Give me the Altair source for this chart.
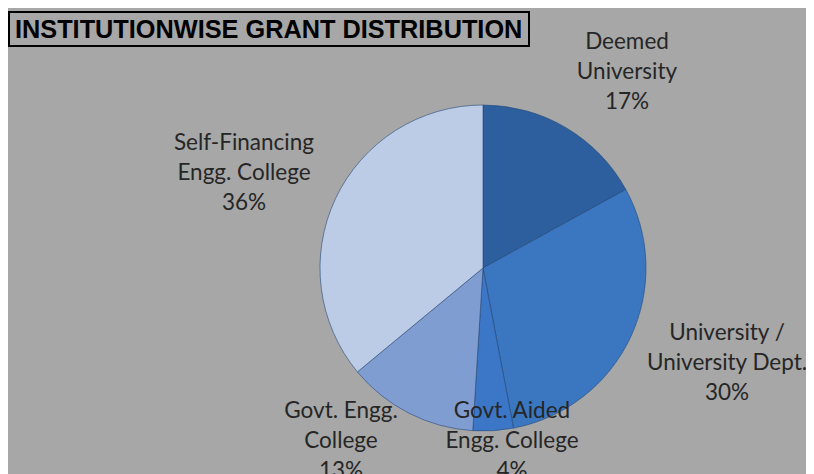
import altair as alt
import pandas as pd

categories = ["Deemed University", "University / University Dept.", "Govt. Aided Engg. College",
              "Govt. Engg. College", "Self-Financing Engg. College"]
label_lines = [["Deemed", "University"], ["University /", "University Dept."],
               ["Govt. Aided", "Engg. College"], ["Govt. Engg.", "College"],
               ["Self-Financing", "Engg. College"]]
shares = [17, 30, 4, 13, 36]
colors = ["#2d5f9e", "#3a77c0", "#3c76c6", "#809dd2", "#bccbe6"]
title_text = "INSTITUTIONWISE GRANT DISTRIBUTION"

df = pd.DataFrame({
    "category": categories,
    "share": shares,
    "idx": list(range(len(categories))),
})
df["label"] = [lines + [f"{s}%"] for lines, s in zip(label_lines, shares)]

CX, CY, R = 475, 260, 163

base = alt.Chart(df).encode(
    theta=alt.Theta("share:Q", stack=True),
    order=alt.Order("idx:O"),
)

pie = base.mark_arc(radius=R, stroke="#24497a", strokeWidth=1, strokeOpacity=0.6).encode(
    x=alt.value(CX), y=alt.value(CY),
    color=alt.Color("category:N", scale=alt.Scale(domain=categories, range=colors), legend=None),
)

# label offsets (layout) of the first line relative to the pie centre
offsets = {
    "Deemed University": (144, -226),
    "University / University Dept.": (244, 65),
    "Govt. Aided Engg. College": (29, 143),
    "Govt. Engg. College": (-142, 143),
    "Self-Financing Engg. College": (-239, -125),
}
label_layers = []
for cat, (dx, dy) in offsets.items():
    label_layers.append(
        base.transform_filter(alt.datum.category == cat).mark_text(
            font="Lato", fontSize=22.5, color="#262626", align="center", baseline="middle",
            lineHeight=30, dx=dx, dy=dy,
        ).encode(x=alt.value(CX), y=alt.value(CY), radius=alt.value(0), text="label")
    )

tdf = pd.DataFrame({"t": [title_text]})
title_box = alt.Chart(tdf).mark_rect(fill="transparent", stroke="black", strokeWidth=2).encode(
    x=alt.value(1), x2=alt.value(521), y=alt.value(4), y2=alt.value(38)
)
title = alt.Chart(tdf).mark_text(
    font="Liberation Sans", fontWeight="bold", fontSize=25.3, color="black",
    align="left", baseline="middle",
).encode(x=alt.value(7), y=alt.value(22), text="t:N")

chart = alt.layer(pie, *label_layers, title_box, title).properties(
    width=798, height=466,
    autosize=alt.AutoSizeParams(type="fit", contains="padding"),
    padding=0,
    background="#a7a7a7",
).configure_view(stroke=None)

chart.save("out.html", embed_options={"renderer": "svg", "actions": False})
